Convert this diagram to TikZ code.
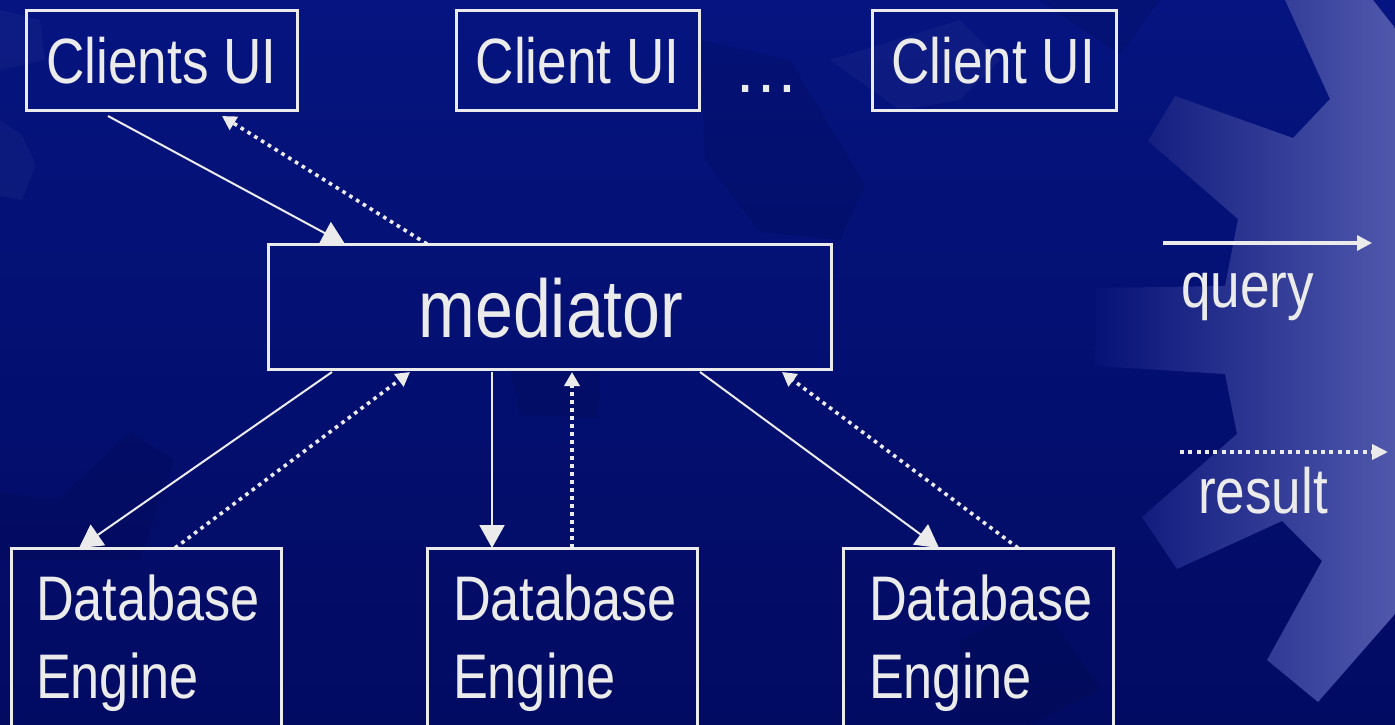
\documentclass[tikz,border=0pt]{standalone}
\usepackage{fontspec}
\setmainfont{Liberation Sans}[FakeStretch=0.83]
\newfontfamily\plainsans{Liberation Sans}
\usetikzlibrary{arrows.meta,calc}

\definecolor{bgtop}{RGB}{5,20,128}
\definecolor{bgbot}{RGB}{2,11,98}
\definecolor{gearlo}{RGB}{6,18,118}
\definecolor{gearmid}{RGB}{50,58,155}
\definecolor{gearhi}{RGB}{80,88,172}
\definecolor{ink}{RGB}{235,235,235}

\begin{document}
\begin{tikzpicture}[x=1pt,y=1pt,
  box/.style={draw=ink, line width=3pt, inner sep=0pt, outer sep=0pt, anchor=north west},
  lbl/.style={text=ink, inner sep=0pt, outer sep=0pt, anchor=base, font=\fontsize{64}{78}\selectfont},
  biglbl/.style={lbl, font=\fontsize{82}{96}\selectfont},
  dblbl/.style={lbl, anchor=base west, font=\fontsize{63}{78}\selectfont},
  qline/.style={draw=ink, line width=2pt, -{Triangle[length=23pt,width=25pt]}},
  rline/.style={draw=ink, line width=3.6pt, dash pattern=on 3.6pt off 4.4pt, -{Triangle[length=14pt,width=15pt]}},
  faintdark/.style={fill=black, fill opacity=0.08, draw=none},
  faintlight/.style={fill=white, fill opacity=0.035, draw=none},
]
\useasboundingbox (0,0) rectangle (1395,-724);
\clip (0,0) rectangle (1395,-724);

% backdrop
\shade[top color=bgtop, bottom color=bgbot] (0,0) rectangle (1395,-724);

% faint cogs in the backdrop
\fill[faintlight] (0,-120) -- (22,-135) -- (36,-165) -- (22,-200) -- (0,-196) -- cycle;
\fill[faintlight] (0,-10) -- (40,-20) -- (45,-60) -- (0,-70) -- cycle;
\fill[faintdark] (700,-40) -- (790,-60) -- (865,-185) -- (840,-240) -- (760,-232) -- (705,-160) -- cycle;
\fill[faintdark] (0,-493) -- (58,-500) -- (130,-432) -- (174,-460) -- (140,-560) -- (0,-560) -- cycle;
\fill[faintdark] (510,-370) -- (600,-372) -- (598,-418) -- (520,-415) -- cycle;
\fill[faintlight] (830,-60) -- (960,-20) -- (1000,-60) -- (960,-100) -- (900,-110) -- cycle;
\fill[faintdark] (1040,-0) -- (1120,-55) -- (1160,-0) -- cycle;
\fill[faintdark] (960,-640) -- (1040,-600) -- (1100,-690) -- (1030,-724) -- (960,-724) -- cycle;

% large cog on the right
\shade[left color=gearlo, middle color=gearmid, right color=gearhi]
  (1285,0) -- (1330,-99) -- (1293,-138) -- (1175,-96) -- (1148,-141)
  -- (1238,-219) -- (1225,-286) -- (1095,-288) -- (1095,-366) -- (1225,-374)
  -- (1237,-434) -- (1142,-517) -- (1177,-569) -- (1282,-521) -- (1322,-561)
  -- (1267,-660) -- (1318,-702) -- (1395,-614) -- (1395,-28) -- (1373,0) -- cycle;

% boxes
\node[box, minimum width=271pt, minimum height=100pt] (ui1) at (26,-10) {};
\node[box, minimum width=243pt, minimum height=100pt] (ui2) at (456,-10) {};
\node[box, minimum width=244pt, minimum height=100pt] (ui3) at (872,-10) {};
\node[box, minimum width=563pt, minimum height=125pt] (med) at (268,-244) {};
\node[box, minimum width=270pt, minimum height=220pt] (db1) at (11,-548) {};
\node[box, minimum width=270pt, minimum height=220pt] (db2) at (427,-548) {};
\node[box, minimum width=270pt, minimum height=220pt] (db3) at (843,-548) {};

% labels
\node[lbl] (ui1t) at (161.5,-83) {Clients UI};
\node[lbl] (ui2t) at (577.5,-83) {Client UI};
\node[lbl] (ui3t) at (993,-83) {Client UI};
\node[lbl, font=\plainsans\fontsize{66}{78}\selectfont] (dots) at (766,-92) {…};
\node[biglbl] (medt) at (551,-337) {mediator};
\node[dblbl] (db1a) at ($(db1.north west)+(25,-72)$) {Database};
\node[dblbl] (db1b) at ($(db1.north west)+(25,-150)$) {Engine};
\node[dblbl] (db2a) at ($(db2.north west)+(26,-72)$) {Database};
\node[dblbl] (db2b) at ($(db2.north west)+(26,-150)$) {Engine};
\node[dblbl] (db3a) at ($(db3.north west)+(26,-72)$) {Database};
\node[dblbl] (db3b) at ($(db3.north west)+(26,-150)$) {Engine};

% queries (solid) and results (dotted)
\draw[qline] ($(ui1.south west)+(82,-6)$) -- ($(med.north west)+(77,0)$);
\draw[rline] ($(med.north west)+(159,0)$) -- ($(ui1.south west)+(196,-6)$);
\draw[qline] ($(med.south west)+(64,-3)$) -- ($(db1.north west)+(68,0)$);
\draw[rline] ($(db1.north west)+(164,0)$) -- ($(med.south west)+(142,-3)$);
\draw[qline] ($(med.south west)+(224,-3)$) -- ($(db2.north west)+(65,0)$);
\draw[rline] ($(db2.north west)+(145,0)$) -- ($(med.south west)+(304,-3)$);
\draw[qline] ($(med.south west)+(432,-3)$) -- ($(db3.north west)+(96,0)$);
\draw[rline] ($(db3.north west)+(175,0)$) -- ($(med.south west)+(514,-3)$);

% legend
\coordinate (qa) at (1163,-243);
\coordinate (qb) at (1372,-243);
\coordinate (ra) at (1180,-452);
\coordinate (rb) at (1388,-452);
\draw[draw=ink, line width=3.4pt, -{Triangle[length=15pt,width=15pt]}] (qa) -- (qb);
\draw[draw=ink, line width=3.8pt, dash pattern=on 4pt off 4.3pt, -{Triangle[length=16pt,width=15pt]}] (ra) -- (rb);
\node[lbl, anchor=base west] (qt) at (1181,-307) {query};
\node[lbl, anchor=base west] (rt) at (1198,-513) {result};
\end{tikzpicture}
\end{document}
